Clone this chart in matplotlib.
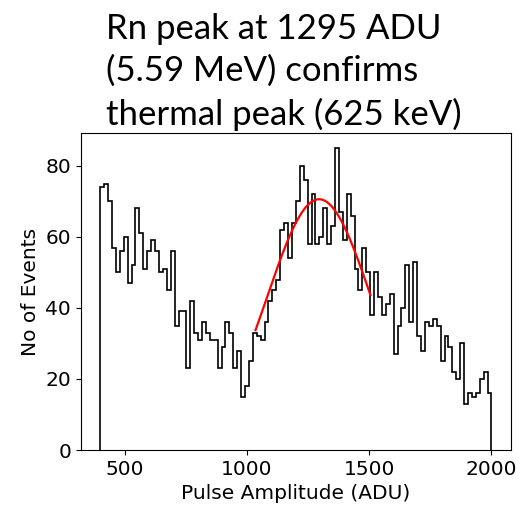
import numpy as np
import matplotlib
matplotlib.use('Agg')
import matplotlib.pyplot as plt

# Histogram of pulse amplitudes, 100 bins of 16 ADU from 400 to 2000
bin_lo, bin_hi = 400, 2000
counts = [
    74, 75, 70, 57, 50, 56, 60, 47, 52, 68,
    61, 51, 56, 59, 56, 50, 51, 45, 56, 35,
    39, 39, 23, 42, 33, 31, 36, 33, 31, 31,
    23, 29, 36, 33, 23, 28, 15, 18, 25, 33,
    32, 31, 36, 42, 45, 48, 62, 64, 54, 64,
    70, 80, 76, 58, 72, 58, 60, 68, 58, 63,
    85, 67, 59, 72, 66, 51, 45, 57, 50, 38,
    50, 43, 38, 41, 44, 27, 35, 40, 52, 36,
    53, 32, 28, 36, 35, 37, 35, 25, 32, 29,
    22, 20, 30, 13, 16, 15, 16, 20, 22, 16,
]

# Gaussian fit of the Rn peak
fit_amp = 70.6
fit_mu = 1295
fit_sigma = 214
fit_lo, fit_hi = 1035, 1505

title = 'Rn peak at 1295 ADU\n(5.59 MeV) confirms\nthermal peak (625 keV)'

edges = np.linspace(bin_lo, bin_hi, len(counts) + 1)
xf = np.linspace(fit_lo, fit_hi, 200)
yf = fit_amp * np.exp(-(xf - fit_mu)**2 / (2 * fit_sigma**2))

fig = plt.figure(figsize=(5.29, 5.07), dpi=100)
ax = fig.add_axes([0.1526, 0.1124, 0.8134, 0.6253])

ax.stairs(counts, edges, baseline=0, fill=False, color='black', lw=1.2)
ax.plot(xf, yf, color='red', lw=1.6)

ax.set_xlim(320, 2080)
ax.set_ylim(0, 89.25)
ax.set_xticks([500, 1000, 1500, 2000])
ax.set_yticks([0, 20, 40, 60, 80])
ax.tick_params(labelsize=14.5)
ax.set_xlabel('Pulse Amplitude (ADU)', fontsize=14.5)
ax.set_ylabel('No of Events', fontsize=14.5)

fig.text(106 / 529, 1 - 13 / 507, title, ha='left', va='top',
         fontsize=25, family='Lato', linespacing=1.38)

fig.savefig('out.png', dpi=100)
